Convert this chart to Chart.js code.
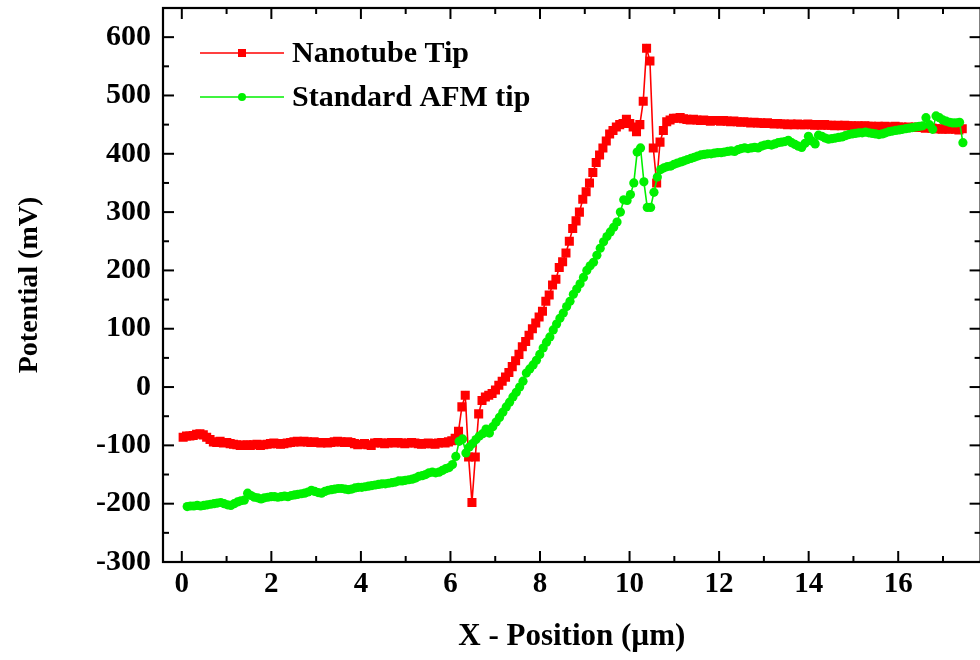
<!DOCTYPE html>
<html>
<head>
<meta charset="utf-8">
<title>Surface potential profile</title>
<script src="https://cdn.jsdelivr.net/npm/chart.js@4.4.1/dist/chart.umd.min.js"></script>
<style>
  html, body { margin: 0; padding: 0; background: #fff; overflow: hidden; }
  #wrap { width: 980px; height: 660px; position: relative; overflow: hidden; }
</style>
</head>
<body>
<div id="wrap"><canvas id="c" width="987" height="660"></canvas></div>
<script>
// Scan positions: evenly spaced samples along the line profile (µm)
const NANO_X0 = 0.03, NANO_DX = 0.075;
const STD_X0 = 0.12, STD_DX = 0.075;

// Potential measured with the carbon nanotube tip (mV)
const nanotubeTip = [
  -86,-84,-84,-83,-81,-80,-82,-86,-90,-94,
  -95,-93,-96,-95,-97,-98,-99,-100,-100,-99,
  -100,-99,-98,-100,-99,-98,-97,-96,-97,-98,
  -97,-96,-95,-94,-93,-94,-93,-94,-95,-94,
  -95,-96,-95,-96,-95,-94,-93,-94,-95,-94,
  -95,-97,-99,-98,-97,-99,-100,-96,-95,-96,
  -97,-96,-95,-96,-95,-96,-97,-96,-95,-96,
  -97,-98,-97,-96,-97,-98,-96,-95,-96,-94,
  -92,-88,-76,-34,-14,-120,-198,-120,-46,-23,
  -17,-14,-11,-5,3,10,17,25,35,45,
  56,69,78,89,100,110,120,130,147,158,
  175,185,205,215,230,250,272,285,300,322,
  335,350,368,385,398,410,422,434,440,446,
  450,452,459,452,446,438,450,490,581,559,
  410,350,420,440,455,458,461,
  461,462,460,459,458,459,458,457,458,457,
  456,457,457,456,457,456,455,456,455,454,
  455,454,453,454,453,453,452,453,452,451,
  452,451,451,450,451,450,451,450,450,451,
  450,449,450,449,450,449,449,448,449,448,
  449,448,448,447,448,447,448,447,447,446,
  447,446,447,446,446,447,446,446,445,446,
  445,446,445,445,444,445,444,443,443,442,
  443,442,443,442,441,443
];

// Potential measured with the standard AFM tip (mV)
const standardTip = [
  -205,-204,-204,-203,-204,-203,-202,-201,-200,-199,
  -198,-200,-202,-203,-200,-197,-195,-194,-182,-186,
  -189,-190,-192,-190,-189,-188,-188,-189,-188,-187,
  -188,-186,-185,-184,-183,-182,-180,-177,-179,-181,
  -182,-179,-177,-176,-175,-174,-174,-175,-176,-175,
  -173,-172,-172,-171,-170,-169,-168,-167,-166,-166,
  -165,-164,-163,-161,-161,-160,-159,-158,-156,-153,
  -152,-150,-147,-146,-147,-146,-143,-140,-138,-133,
  -119,-93,-89,-113,-103,-97,-90,-84,-80,-72,
  -79,-68,-60,-52,-43,-34,-26,-17,-9,0,
  10,24,31,38,46,56,67,77,86,98,
  108,118,127,138,147,159,168,177,188,200,
  208,214,226,238,249,258,266,274,283,300,
  321,320,330,350,403,410,352,308,308,334,
  360,373,376,378,379,382,
  384,386,388,390,392,394,396,398,399,400,
  400,401,402,402,403,404,405,404,407,409,
  410,409,410,411,410,413,415,416,415,417,
  419,420,421,423,419,416,413,411,418,430,
  422,417,432,430,427,425,426,427,428,429,
  431,433,434,435,436,436,437,436,435,434,
  433,434,436,438,439,440,441,442,443,444,
  445,446,447,448,462,450,442,465,462,458,
  456,454,453,453,454,419
];

// Axis ticks
const xMajorTicks = [0, 2, 4, 6, 8, 10, 12, 14, 16];
const xMinorTicks = [1, 3, 5, 7, 9, 11, 13, 15, 17];
const yMajorTicks = [-300, -200, -100, 0, 100, 200, 300, 400, 500, 600];
const yMinorTicks = [-250, -150, -50, 50, 150, 250, 350, 450, 550];

const seriesNames = ['Nanotube Tip', 'Standard AFM tip'];
const RED = '#ff0000';
const GREEN = '#00f000';
const SERIF = "'Liberation Serif', 'Times New Roman', serif";

const toPoints = (vals, x0, dx) => vals.map((v, i) => ({ x: +(x0 + i * dx).toFixed(4), y: v }));

// Boxed frame with inward major/minor ticks on all four sides, plus the legend
const framePlugin = {
  id: 'frameAndLegend',
  afterDraw(chart) {
    const { ctx, chartArea: a } = chart;
    const xs = chart.scales.x, ys = chart.scales.y;
    ctx.save();
    ctx.strokeStyle = '#000';
    ctx.lineWidth = 2.2;
    ctx.lineCap = 'butt';
    ctx.strokeRect(a.left, a.top, a.right - a.left, a.bottom - a.top);

    const seg = (x1, y1, x2, y2) => { ctx.beginPath(); ctx.moveTo(x1, y1); ctx.lineTo(x2, y2); ctx.stroke(); };
    ctx.lineWidth = 2;
    xMajorTicks.forEach(v => { const p = xs.getPixelForValue(v); seg(p, a.bottom, p, a.bottom - 11); seg(p, a.top, p, a.top + 11); });
    xMinorTicks.forEach(v => { const p = xs.getPixelForValue(v); if (p < a.right - 2) { seg(p, a.bottom, p, a.bottom - 6); seg(p, a.top, p, a.top + 6); } });
    yMajorTicks.forEach(v => { const p = ys.getPixelForValue(v); seg(a.left, p, a.left + 11, p); seg(a.right, p, a.right - 11, p); });
    yMinorTicks.forEach(v => { const p = ys.getPixelForValue(v); seg(a.left, p, a.left + 6, p); seg(a.right, p, a.right - 6, p); });

    // legend: line sample with centred marker, then the series name
    const rows = [{ y: 53, ds: chart.data.datasets[0] }, { y: 97, ds: chart.data.datasets[1] }];
    rows.forEach(r => {
      ctx.strokeStyle = r.ds.borderColor;
      ctx.lineWidth = 1.6;
      seg(200, r.y, 284, r.y);
      ctx.fillStyle = r.ds.borderColor;
      if (r.ds.pointStyle === 'rect') {
        ctx.fillRect(242 - 4, r.y - 4, 8, 8);
      } else {
        ctx.beginPath(); ctx.arc(242, r.y, 4, 0, Math.PI * 2); ctx.fill();
      }
      ctx.fillStyle = '#000';
      ctx.font = "bold 30px " + SERIF;
      ctx.textBaseline = 'middle';
      ctx.textAlign = 'left';
      ctx.fillText(r.ds.label, 292, r.y + 1);
    });
    ctx.restore();
  }
};

new Chart(document.getElementById('c'), {
  type: 'line',
  data: {
    datasets: [
      {
        label: seriesNames[0],
        data: toPoints(nanotubeTip, NANO_X0, NANO_DX),
        borderColor: RED, backgroundColor: RED,
        borderWidth: 1.6, pointStyle: 'rect', pointRadius: 6.4,
        pointBorderWidth: 0, pointHoverRadius: 6.4, order: 2
      },
      {
        label: seriesNames[1],
        data: toPoints(standardTip, STD_X0, STD_DX),
        borderColor: GREEN, backgroundColor: GREEN,
        borderWidth: 1.6, pointStyle: 'circle', pointRadius: 4.6,
        pointBorderWidth: 0, pointHoverRadius: 4.6, order: 1
      }
    ]
  },
  options: {
    responsive: false,
    devicePixelRatio: 1,
    animation: false,
    events: [],
    layout: { padding: { top: 8, right: 1, left: 0, bottom: 0 } },
    plugins: { legend: { display: false }, tooltip: { enabled: false } },
    scales: {
      x: {
        type: 'linear', min: -0.42, max: 17.84,
        afterBuildTicks: s => { s.ticks = xMajorTicks.map(v => ({ value: v })); },
        afterFit: s => { s.height = 98; s.paddingLeft = 0; s.paddingRight = 0; },
        grid: { display: false, drawTicks: false },
        border: { display: false },
        ticks: { color: '#000', padding: 5, maxRotation: 0, autoSkip: false,
                 font: { family: SERIF, size: 29, weight: 'bold' } },
        title: { display: true, text: 'X - Position (µm)', color: '#000',
                 padding: { top: 0, bottom: 4 },
                 font: { family: SERIF, size: 31, weight: 'bold', lineHeight: 1.2 } }
      },
      y: {
        type: 'linear', min: -300, max: 650,
        afterBuildTicks: s => { s.ticks = yMajorTicks.map(v => ({ value: v })); },
        afterFit: s => { s.width = 163; s.paddingTop = 0; s.paddingBottom = 0; },
        grid: { display: false, drawTicks: false },
        border: { display: false },
        ticks: { color: '#000', padding: 12, autoSkip: false,
                 font: { family: SERIF, size: 30, weight: 'bold' } },
        title: { display: true, text: 'Potential (mV)', color: '#000',
                 padding: { top: 13, bottom: 0 },
                 font: { family: SERIF, size: 28, weight: 'bold', lineHeight: 1.2 } }
      }
    }
  },
  plugins: [framePlugin]
});
</script>
</body>
</html>
